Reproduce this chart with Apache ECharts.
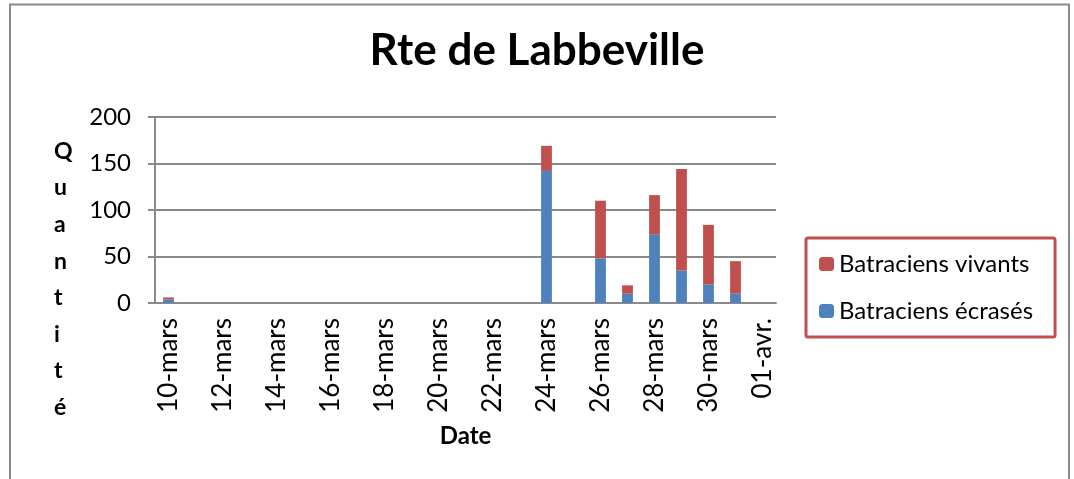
<!DOCTYPE html>
<html style="height: 100%">
   <head>
       <meta charset="utf-8">
   </head>
   <body style="height: 100%; margin: 0; background: #fff">
       <div id="container" style="width: 1074px; height: 479px"></div>
       <script type="text/javascript" src="https://cdn.jsdelivr.net/npm/echarts@6/dist/echarts.min.js"></script>
       <script type="text/javascript">
// dates, one per day
var dates = ['10-mars','11-mars','12-mars','13-mars','14-mars','15-mars','16-mars','17-mars',
    '18-mars','19-mars','20-mars','21-mars','22-mars','23-mars','24-mars','25-mars',
    '26-mars','27-mars','28-mars','29-mars','30-mars','31-mars','01-avr.'];
var ecrases = [4,0,0,0,0,0,0,0,0,0,0,0,0,0,142,0,48,10,74,35,20,10,0];
var vivants = [2,0,0,0,0,0,0,0,0,0,0,0,0,0,27,0,62,9,42,109,64,35,0];
var yLetters = ['Q','u','a','n','t','i','t','é'];

var font = 'Lato';
var gray = '#8a8a8a';

var dom = document.getElementById("container");
var myChart = echarts.init(dom);

option = {
    backgroundColor: '#fff',
    animation: false,
    textStyle: { fontFamily: font },
    title: {
        text: 'Rte de Labbeville',
        left: 'center',
        top: 24,
        textStyle: { fontFamily: font, fontSize: 44, fontWeight: 'bold', color: '#000' }
    },
    graphic: [{
        type: 'rect',
        shape: { x: 10, y: 4.5, width: 1059, height: 490 },
        style: { fill: 'none', stroke: gray, lineWidth: 2 }
    }, {
        type: 'text',
        left: 54,
        top: 133,
        style: {
            text: yLetters.join('\n'),
            font: 'bold 23px ' + font,
            fill: '#000',
            lineHeight: 36.6,
            align: 'center'
        }
    }],
    legend: {
        orient: 'vertical',
        left: 806,
        top: 238,
        data: ['Batraciens vivants', 'Batraciens écrasés'],
        itemWidth: 15,
        itemHeight: 14,
        itemGap: 23,
        padding: [14, 22, 14, 13],
        borderColor: '#c0504d',
        borderWidth: 3,
        borderRadius: 2,
        textStyle: { fontFamily: font, fontSize: 24, color: '#000', lineHeight: 24 }
    },
    grid: { left: 155, right: 298, top: 117, bottom: 176, containLabel: false },
    xAxis: {
        type: 'category',
        data: dates,
        name: 'Date',
        nameLocation: 'middle',
        nameGap: 121,
        nameTextStyle: { fontFamily: font, fontSize: 24, fontWeight: 'bold', color: '#000' },
        axisLine: { lineStyle: { color: gray, width: 2 } },
        axisTick: { interval: 1, length: 7, lineStyle: { color: gray, width: 2 } },
        axisLabel: { interval: 1, rotate: 90, margin: 15, fontSize: 26, color: '#000', fontFamily: font }
    },
    yAxis: {
        type: 'value',
        min: 0,
        max: 200,
        interval: 50,
        axisLine: { show: true, lineStyle: { color: gray, width: 2 } },
        axisTick: { show: true, length: 7, lineStyle: { color: gray, width: 2 } },
        axisLabel: { margin: 24, fontSize: 24, color: '#000', fontFamily: font },
        splitLine: { lineStyle: { color: gray, width: 2 } }
    },
    series: [{
        name: 'Batraciens écrasés',
        type: 'bar',
        stack: 'total',
        barWidth: '40%',
        data: ecrases,
        itemStyle: { color: '#4f81bd' }
    }, {
        name: 'Batraciens vivants',
        type: 'bar',
        stack: 'total',
        barWidth: '40%',
        data: vivants,
        itemStyle: { color: '#c0504d' }
    }]
};

myChart.setOption(option, true);
       </script>
   </body>
</html>
